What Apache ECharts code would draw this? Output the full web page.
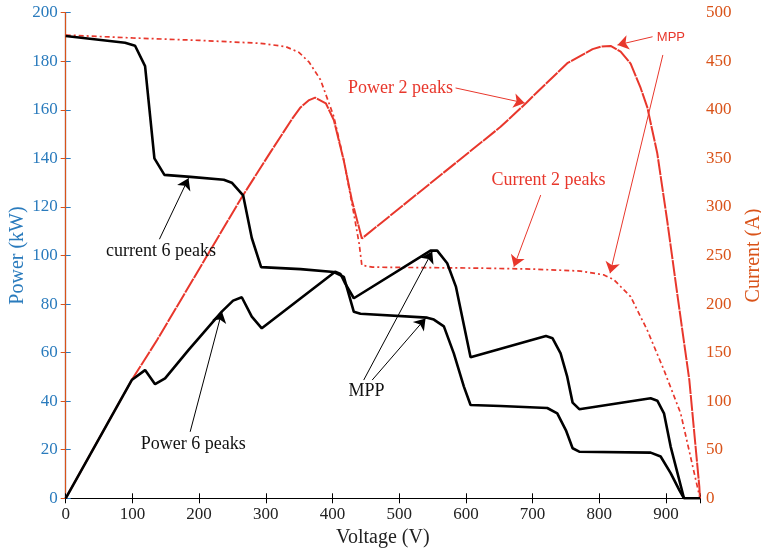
<!DOCTYPE html>
<html>
<head>
<meta charset="utf-8">
<script src="https://cdn.jsdelivr.net/npm/echarts@6/dist/echarts.min.js"></script>
<style>
html, body { margin: 0; padding: 0; background: #fff; }
#chart { width: 761px; height: 555px; }
</style>
</head>
<body>
<div id="chart"></div>
<script>
// power, 6 peaks (kW)
var power6V = [0, 99, 119, 134, 149, 184, 234, 251, 264, 279, 294, 404, 412, 419, 432, 547, 557, 572, 585, 607, 720, 730, 742, 752, 760, 770, 877, 887, 897, 907, 927, 951];
var power6P = [0, 48.7, 52.8, 47, 49.4, 61, 76.9, 81.4, 82.8, 74.8, 70, 93.3, 92.4, 88.5, 82.4, 102, 102, 96.8, 87.2, 58.1, 66.8, 65.9, 59.7, 50, 39.4, 36.7, 41.2, 40.2, 35, 21.3, 0, 0];

// current, 6 peaks (A)
var current6V = [0, 89, 104, 119, 133, 148, 187, 237, 249, 266, 279, 293, 352, 402, 417, 432, 442, 542, 552, 567, 582, 597, 607, 652, 722, 737, 750, 760, 770, 877, 892, 907, 920, 927, 951];
var current6I = [476, 469, 466, 445, 350, 333, 331, 328, 325, 312, 268, 238, 236, 233, 228, 192, 190, 186, 184, 177, 149, 115, 96, 95, 93, 87.5, 70, 51.5, 48, 47, 43, 26, 8.5, 0, 0];

// power, 2 peaks (kW)
var power2V = [0, 99, 137, 264, 308, 340, 352, 365, 374, 390, 402, 417, 429, 444, 652, 690, 702, 752, 790, 802, 817, 832, 847, 862, 872, 887, 902, 918, 935, 950, 951];
var power2P = [0, 48.7, 65.2, 124, 143, 156.5, 161, 164, 165, 162.7, 155.8, 139, 122.9, 107, 153, 162.7, 166, 179.2, 185, 186, 186.3, 184, 179, 169, 161, 142, 114, 82, 48.7, 4.8, 0];

// current, 2 peaks (A)
var current2V = [0, 100, 200, 292, 330, 350, 365, 382, 402, 417, 432, 440, 444, 460, 622, 700, 772, 807, 822, 847, 872, 897, 922, 947, 951];
var current2I = [477, 474, 471.5, 468.5, 465, 459, 449, 431, 393, 348, 293, 262, 240, 238, 237, 236, 234, 230, 225, 207.6, 173, 132, 87.5, 12, 0];

// tick labels
var xTicks = [0, 100, 200, 300, 400, 500, 600, 700, 800, 900];
var powerTicks = [0, 20, 40, 60, 80, 100, 120, 140, 160, 180, 200];
var currentTicks = [0, 50, 100, 150, 200, 250, 300, 350, 400, 450, 500];

// annotations, in (V, kW)
var blackArrows = [
	[[140.5, 106.7], [184.1, 131.8]],
	[[186.6, 27.4], [234.2, 76.9]],
	[[446.8, 48.7], [549.5, 101.6]],
	[[459.5, 48.7], [539.5, 74.1]]
];
var redArrows = [
	[[584.5, 169], [688.1, 162.8]],
	[[712.2, 124.9], [672, 95.4]],
	[[879.9, 190.1], [827.3, 186.7]],
	[[895.3, 182.6], [816.2, 92.7]]
];
var labelText = ['current 6 peaks', 'Power 6 peaks', 'MPP', 'Power 2 peaks', 'Current 2 peaks', 'MPP'];
var labelPos = [[143, 101.9], [191.3, 22.4], [451, 44.2], [502, 169], [724, 131], [907.4, 190]];
var labelColor = ['#000', '#000', '#000', 'red', 'red', 'red'];

var RED = '#e8372c';
var BLUE = '#2a7bbd';
var ORANGE = '#d95319';
var SERIF = 'Liberation Serif';

function zip(a, b) {
	var out = [];
	for (var i = 0; i < a.length; i++) out.push([a[i], b[i]]);
	return out;
}

function arrowData(list, color) {
	return list.map(function (a) {
		return [{ coord: a[0], lineStyle: { color: color } }, { coord: a[1] }];
	});
}

var chart = echarts.init(document.getElementById('chart'));

var option = {
	animation: false,
	grid: { left: 65.7, right: 61, top: 12.7, bottom: 56.7, outerBoundsMode: 'none', containLabel: false },
	xAxis: [{
		type: 'value',
		min: 0,
		max: 951,
		interval: 100,
		name: 'Voltage (V)',
		nameLocation: 'middle',
		nameGap: 29,
		nameTextStyle: { fontFamily: SERIF, fontSize: 20, color: '#222' },
		axisLine: { lineStyle: { color: '#000', width: 1.2 } },
		axisTick: { inside: true, length: 5, lineStyle: { color: '#000' } },
		axisLabel: { show: false },
		splitLine: { show: false }
	}, {
		type: 'value',
		position: 'top',
		min: 0,
		max: 951,
		interval: 100,
		axisLine: { lineStyle: { color: '#000', width: 1.2 } },
		axisTick: { inside: true, length: 5, lineStyle: { color: '#000' } },
		axisLabel: { show: false },
		splitLine: { show: false }
	}],
	yAxis: [{
		type: 'value',
		min: 0,
		max: 200,
		interval: 20,
		name: 'Power (kW)',
		nameLocation: 'middle',
		nameGap: 38,
		nameTextStyle: { fontFamily: SERIF, fontSize: 20, color: BLUE },
		axisLine: { show: true, lineStyle: { color: BLUE, width: 1.2 } },
		axisTick: { show: true, inside: true, length: 5, lineStyle: { color: BLUE } },
		axisLabel: { show: false },
		splitLine: { show: false }
	}, {
		type: 'value',
		position: 'right',
		min: 0,
		max: 500,
		interval: 50,
		name: 'Current (A)',
		nameLocation: 'middle',
		nameGap: 44,
		nameTextStyle: { fontFamily: SERIF, fontSize: 20, color: ORANGE },
		axisLine: { show: true, lineStyle: { color: ORANGE, width: 1.2 } },
		axisTick: { show: true, inside: true, length: 5, lineStyle: { color: ORANGE } },
		axisLabel: { show: false },
		splitLine: { show: false }
	}],
	series: [{
		name: 'Current 2 peaks',
		type: 'line',
		yAxisIndex: 1,
		showSymbol: false,
		data: zip(current2V, current2I),
		lineStyle: { color: RED, width: 1.7, type: [5, 3, 2, 3] }
	}, {
		name: 'Power 2 peaks',
		type: 'line',
		yAxisIndex: 0,
		showSymbol: false,
		data: zip(power2V, power2P),
		lineStyle: { color: RED, width: 2, type: [16, 1] },
		markLine: {
			silent: true,
			symbol: ['none', 'arrow'],
			symbolSize: 11,
			label: { show: false },
			lineStyle: { color: RED, width: 1, type: 'solid' },
			itemStyle: { color: RED },
			data: arrowData(redArrows, RED)
		}
	}, {
		name: 'Current 6 peaks',
		type: 'line',
		yAxisIndex: 1,
		showSymbol: false,
		data: zip(current6V, current6I),
		lineStyle: { color: '#000', width: 2.6 }
	}, {
		name: 'Power 6 peaks',
		type: 'line',
		yAxisIndex: 0,
		showSymbol: false,
		data: zip(power6V, power6P),
		lineStyle: { color: '#000', width: 2.6 },
		markLine: {
			silent: true,
			symbol: ['none', 'arrow'],
			symbolSize: 11,
			label: { show: false },
			lineStyle: { color: '#000', width: 1, type: 'solid' },
			itemStyle: { color: '#000' },
			data: arrowData(blackArrows, '#000')
		}
	}]
};
chart.setOption(option);

function txt(x, y, text, color, font, align, vAlign) {
	return {
		type: 'text', x: x, y: y, z: 10, silent: true,
		style: { text: text, fill: color, font: font, align: align, verticalAlign: vAlign }
	};
}

var graphics = [];
var tickFont = '17px "Liberation Serif"';

// tick labels, placed through the axes
xTicks.forEach(function (v) {
	var p = chart.convertToPixel({ xAxisIndex: 0, yAxisIndex: 0 }, [v, 0]);
	graphics.push(txt(p[0], p[1] + 8, String(v), '#222', tickFont, 'center', 'top'));
});
powerTicks.forEach(function (v) {
	var p = chart.convertToPixel({ xAxisIndex: 0, yAxisIndex: 0 }, [0, v]);
	graphics.push(txt(p[0] - 8, p[1], String(v), BLUE, tickFont, 'right', 'middle'));
});
currentTicks.forEach(function (v) {
	var p = chart.convertToPixel({ xAxisIndex: 0, yAxisIndex: 1 }, [951, v]);
	graphics.push(txt(p[0] + 6, p[1], String(v), ORANGE, tickFont, 'left', 'middle'));
});

// annotation texts
labelText.forEach(function (t, i) {
	var p = chart.convertToPixel({ xAxisIndex: 0, yAxisIndex: 0 }, labelPos[i]);
	var font = (i === 5) ? '13px "Liberation Sans"' : '18px "Liberation Serif"';
	graphics.push(txt(p[0], p[1], t, labelColor[i] === 'red' ? RED : '#111', font, 'center', 'middle'));
});

chart.setOption({ graphic: graphics });
</script>
</body>
</html>
